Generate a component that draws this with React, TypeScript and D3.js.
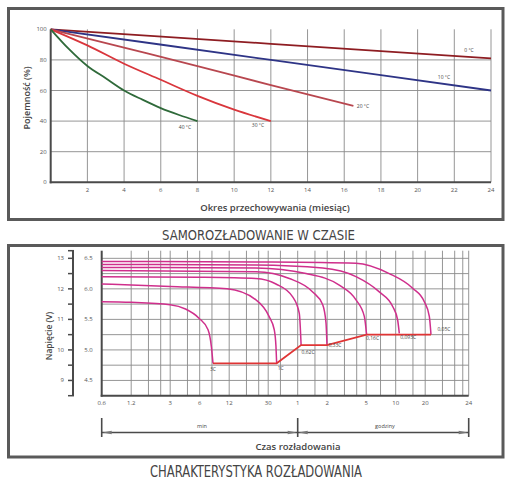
import React from 'react';
import * as d3 from 'd3';

// ---------- Top chart data: self-discharge ----------
const M_0C = [0, 12, 24];
const CAP_0C = [100, 90.5, 81];
const M_10C = [0, 12, 24];
const CAP_10C = [100, 80, 60];
const M_20C = [0, 4, 8, 12, 16.5];
const CAP_20C = [100, 88, 76, 63.5, 50];
const M_30C = [0, 2, 4, 6, 8, 10, 12];
const CAP_30C = [100, 89.5, 77.5, 67, 56.5, 47.5, 40];
const M_40C = [0, 1, 2, 3, 4, 5, 6, 7, 8];
const CAP_40C = [100, 87, 76, 68, 60, 54, 48.5, 44, 40];
const TOP_X_TICKS = [2, 4, 6, 8, 10, 12, 14, 16, 18, 20, 22, 24];
const TOP_Y_TICKS = [0, 20, 40, 60, 80, 100];

// ---------- Bottom chart data: discharge characteristics ----------
const T_3C = [0.6, 1.2, 3.0, 4.3, 5.9, 7.3, 7.9, 8.2];
const V_3C = [5.79, 5.78, 5.74, 5.67, 5.52, 5.33, 5.05, 4.78];
const T_1C = [0.6, 3, 11.4, 22.5, 30.6, 34.6, 36, 36.6];
const V_1C = [6.08, 6.04, 6.0, 5.82, 5.55, 5.33, 5.06, 4.78];
const T_062C = [0.6, 6.0, 22.5, 36.0, 53.3, 62.3, 65];
const V_062C = [6.2, 6.19, 6.17, 6.08, 5.87, 5.6, 5.08];
const T_033C = [0.6, 22.5, 49.3, 85.3, 108, 116.7, 119.4];
const V_033C = [6.3, 6.28, 6.17, 5.95, 5.74, 5.44, 5.08];
const T_016C = [0.6, 22.5, 73, 159.4, 236, 287, 303];
const V_016C = [6.35, 6.34, 6.25, 6.06, 5.82, 5.55, 5.25];
const T_0093C = [0.6, 22.5, 108, 236, 408, 559, 628, 653];
const V_0093C = [6.4, 6.39, 6.34, 6.2, 5.95, 5.71, 5.49, 5.27];
const T_005C = [0.6, 22.5, 236, 516, 894, 1175, 1322, 1375];
const V_005C = [6.45, 6.44, 6.42, 6.25, 6.01, 5.79, 5.55, 5.25];
const CUTOFF_T = [8.2, 36.6, 65, 119.4, 303, 1375];
const CUTOFF_V = [4.78, 4.78, 5.08, 5.08, 5.25, 5.25];
const CURVE_LABELS = ['3C', '1C', '0,62C', '0,33C', '0,16C', '0,093C', '0,05C'];

const X_END_MIN = 3335;
const BOT_X_TICKS = [0.6, 1.2, 3, 6, 12, 30, 60, 120, 300, 600, 1200, X_END_MIN];
const BOT_X_LABELS = ['0.6', '1.2', '3', '6', '12', '30', '1', '2', '5', '10', '20', '24'];
const BOT_X_GRID = [1.2, 1.8, 2.4, 3, 4.5, 6, 8, 12, 18, 24, 30, 40, 60, 90, 120, 180, 240, 300, 420, 600, 900, 1200, 1800, 2400, 2900];
const V6_TICKS = [4.5, 5.0, 5.5, 6.0, 6.5];
const V6_GRID = [4.5, 4.75, 5.0, 5.25, 5.5, 5.75, 6.0, 6.25, 6.5];
const V12_LABELS = [9, 10, 11, 12, 13];
const V12_TICKS = [8.5, 9, 9.5, 10, 10.5, 11, 11.5, 12, 12.5, 13, 13.25];

const FONT = "'Open Sans', 'DejaVu Sans', sans-serif";
const TITLE_FONT = "'Liberation Sans Narrow', 'DejaVu Sans Condensed', 'Roboto', sans-serif";

export default function App() {
  // top scales
  const xT = d3.scaleLinear().domain([0, 24]).range([50.7, 491]);
  const yT = d3.scaleLinear().domain([0, 100]).range([182.3, 29.3]);
  const lineT = (ms: number[], cs: number[]) =>
    d3.line<number>().x((_, i) => xT(ms[i])).y((c) => yT(c)).curve(d3.curveMonotoneX)(cs) || '';

  const topSeries = [
    { m: M_0C, c: CAP_0C, color: '#8e1d22', label: '0 °C', lx: 469, ly: 52 },
    { m: M_10C, c: CAP_10C, color: '#2e3486', label: '10 °C', lx: 444, ly: 79 },
    { m: M_20C, c: CAP_20C, color: '#b8474f', label: '20 °C', lx: 363, ly: 108 },
    { m: M_30C, c: CAP_30C, color: '#d9363c', label: '30 °C', lx: 258, ly: 127 },
    { m: M_40C, c: CAP_40C, color: '#2f6a3a', label: '40 °C', lx: 185, ly: 129 },
  ];

  // bottom scales
  const xB = d3.scaleLog().domain([0.6, X_END_MIN]).range([101.7, 468.7]);
  const yB = d3.scaleLinear().domain([4.25, 6.625]).range([395.7, 250.7]);
  const yB12 = d3.scaleLinear().domain([8.5, 13.25]).range([395.7, 250.7]);
  const lineB = (ts: number[], vs: number[], curve = true) => {
    const l = d3.line<number>().x((_, i) => xB(ts[i])).y((v) => yB(v));
    if (curve) l.curve(d3.curveMonotoneX);
    return l(vs) || '';
  };
  const botSeries = [
    [T_3C, V_3C], [T_1C, V_1C], [T_062C, V_062C], [T_033C, V_033C],
    [T_016C, V_016C], [T_0093C, V_0093C], [T_005C, V_005C],
  ];
  const labelOffsets = [
    [0, 8], [4, 7], [7, 9], [8, 2], [6, 5], [9, 6], [13, -4],
  ];

  const gridC = '#8a8a8a';
  const axisC = '#4a4a4a';
  const textC = '#555';

  return (
    <svg width={512} height={491} style={{ position: 'absolute', left: 0, top: 0, background: '#fff' }}>
      <rect x={0} y={0} width={512} height={491} fill="#fff" />
      {/* ---------- TOP CHART ---------- */}
      <rect x={8.5} y={8.5} width={494.5} height={211} fill="none" stroke="#5a5a5a" strokeWidth={3} />
      {TOP_X_TICKS.map((t) => (
        <line key={'tx' + t} x1={xT(t)} x2={xT(t)} y1={yT(100)} y2={yT(0)} stroke={gridC} strokeWidth={0.9} />
      ))}
      {TOP_Y_TICKS.filter((t) => t > 0 && t < 100).map((t) => (
        <line key={'ty' + t} x1={xT(0)} x2={xT(24)} y1={yT(t)} y2={yT(t)} stroke={gridC} strokeWidth={0.9} />
      ))}
      <line x1={xT(0)} x2={xT(0)} y1={yT(100)} y2={yT(0) + 1} stroke={axisC} strokeWidth={2} />
      <line x1={xT(0) - 1} x2={xT(24)} y1={yT(0)} y2={yT(0)} stroke={axisC} strokeWidth={2} />
      {TOP_Y_TICKS.map((t) => (
        <text key={'tyl' + t} x={xT(0) - 4} y={yT(t) + 2} textAnchor="end" fontSize={6} fill={textC} fontFamily={FONT}>
          {t}
        </text>
      ))}
      {TOP_X_TICKS.map((t) => (
        <text key={'txl' + t} x={xT(t)} y={192} textAnchor="middle" fontSize={6} fill={textC} fontFamily={FONT}>
          {t}
        </text>
      ))}
      {topSeries.map((s) => (
        <g key={s.label}>
          <path d={lineT(s.m, s.c)} fill="none" stroke={s.color} strokeWidth={1.8} />
          <text x={s.lx} y={s.ly} textAnchor="middle" fontSize={5} fill="#444" fontFamily={FONT}>
            {s.label}
          </text>
        </g>
      ))}
      <text x={275} y={211} textAnchor="middle" fontSize={9.5} fill="#444" fontFamily={FONT} fontWeight={600}>
        Okres przechowywania (miesiąc)
      </text>
      <text transform="translate(30,98) rotate(-90)" textAnchor="middle" fontSize={9} fill="#444" fontFamily={FONT} fontWeight={600}>
        Pojemność (%)
      </text>
      <text x={258.5} y={240} textAnchor="middle" fontSize={13.5} fill="#444" fontFamily={TITLE_FONT} textLength={193} lengthAdjust="spacingAndGlyphs">
        SAMOROZŁADOWANIE W CZASIE
      </text>

      {/* ---------- BOTTOM CHART ---------- */}
      <rect x={8.5} y={245.5} width={494.5} height={211.5} fill="none" stroke="#5a5a5a" strokeWidth={3} />
      {BOT_X_GRID.map((t) => (
        <line key={'bx' + t} x1={xB(t)} x2={xB(t)} y1={250.7} y2={395.7} stroke={gridC} strokeWidth={0.9} />
      ))}
      <line x1={xB(X_END_MIN)} x2={xB(X_END_MIN)} y1={250.7} y2={395.7} stroke={gridC} strokeWidth={0.9} />
      {V6_GRID.map((v) => (
        <line key={'by' + v} x1={xB(0.6)} x2={xB(X_END_MIN)} y1={yB(v)} y2={yB(v)} stroke={gridC} strokeWidth={0.9} />
      ))}
      <line x1={xB(0.6)} x2={xB(0.6)} y1={250.7} y2={396.7} stroke={axisC} strokeWidth={2} />
      <line x1={xB(0.6) - 1} x2={xB(X_END_MIN)} y1={395.7} y2={395.7} stroke={axisC} strokeWidth={2} />
      {/* outer 12V axis */}
      <line x1={73} x2={73} y1={yB12(13.25)} y2={yB12(8.5)} stroke={axisC} strokeWidth={2} />
      {V12_TICKS.map((v) => (
        <line key={'t12' + v} x1={68} x2={74} y1={yB12(v)} y2={yB12(v)} stroke={axisC} strokeWidth={1.5} />
      ))}
      {V12_LABELS.map((v) => (
        <text key={'l12' + v} x={64} y={yB12(v) + 2} textAnchor="end" fontSize={6} fill={textC} fontFamily={FONT}>
          {v}
        </text>
      ))}
      {V6_TICKS.map((v) => (
        <text key={'l6' + v} x={88.5} y={yB(v) + 2} textAnchor="middle" fontSize={6} fill={textC} fontFamily={FONT}>
          {v.toFixed(1)}
        </text>
      ))}
      {BOT_X_TICKS.map((t, i) => (
        <text key={'bxl' + i} x={xB(t)} y={405} textAnchor="middle" fontSize={6} fill={textC} fontFamily={FONT}>
          {BOT_X_LABELS[i]}
        </text>
      ))}
      {botSeries.map(([ts, vs], i) => (
        <path key={'bs' + i} d={lineB(ts, vs)} fill="none" stroke="#cf2f8c" strokeWidth={1.5} />
      ))}
      <path d={lineB(CUTOFF_T, CUTOFF_V, false)} fill="none" stroke="#e03535" strokeWidth={1.8} />
      {botSeries.map(([ts, vs], i) => (
        <text
          key={'cl' + i}
          x={xB(ts[ts.length - 1]) + labelOffsets[i][0]}
          y={yB(vs[vs.length - 1]) + labelOffsets[i][1]}
          textAnchor="middle"
          fontSize={5}
          fill="#444"
          fontFamily={FONT}
        >
          {CURVE_LABELS[i]}
        </text>
      ))}
      <text transform="translate(52,336) rotate(-90)" textAnchor="middle" fontSize={8.5} fill="#444" fontFamily={FONT} fontWeight={600}>
        Napięcie (V)
      </text>
      {/* time bracket */}
      {[0.6, 60, X_END_MIN].map((t) => (
        <line key={'br' + t} x1={xB(t)} x2={xB(t)} y1={418} y2={437} stroke={axisC} strokeWidth={1.6} />
      ))}
      <line x1={xB(0.6)} x2={xB(X_END_MIN)} y1={432.5} y2={432.5} stroke={axisC} strokeWidth={1.4} />
      {[
        [xB(0.6) + 1, 1], [xB(60) - 1, -1], [xB(60) + 1, 1], [xB(X_END_MIN) - 1, -1],
      ].map(([x, dir], i) => (
        <path key={'ar' + i} d={`M${x},432.5 L${x + dir * 9},430.8 L${x + dir * 9},434.2 Z`} fill="#777" />
      ))}
      <text x={202} y={428} textAnchor="middle" fontSize={5.5} fill="#444" fontFamily={FONT}>min</text>
      <text x={385} y={428} textAnchor="middle" fontSize={5.5} fill="#444" fontFamily={FONT}>godziny</text>
      <text x={298} y={450} textAnchor="middle" fontSize={9.5} fill="#444" fontFamily={FONT} fontWeight={600}>
        Czas rozładowania
      </text>
      <text x={256} y={477} textAnchor="middle" fontSize={15} fill="#444" fontFamily={TITLE_FONT} textLength={212} lengthAdjust="spacingAndGlyphs">
        CHARAKTERYSTYKA ROZŁADOWANIA
      </text>
    </svg>
  );
}
